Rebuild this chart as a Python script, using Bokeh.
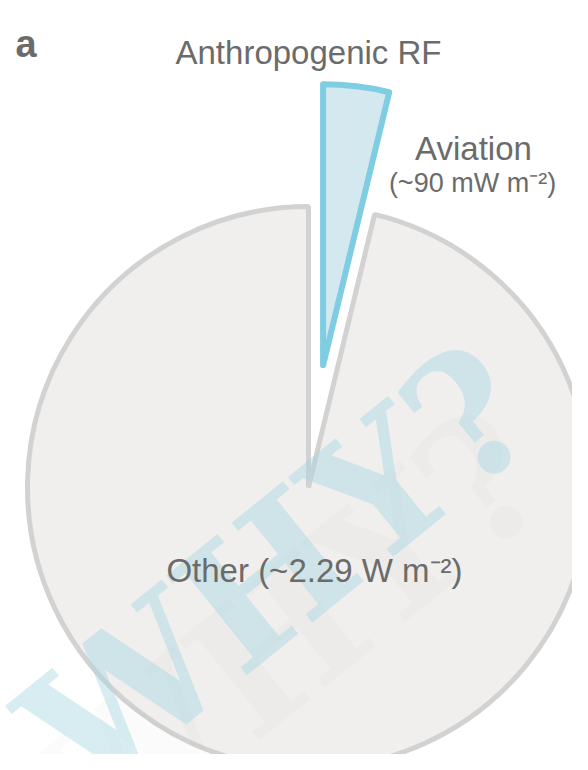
import math
from bokeh.plotting import figure
from bokeh.models import Range1d
from bokeh.core.properties import value
from bokeh.embed import file_html
from bokeh.resources import INLINE

# ---- data ----
slice_names = ["Aviation", "Other"]
slice_values_mw = [90, 2290]          # mW m^-2
slice_labels = ["Aviation", "Other (~2.29 W m\u207b\u00b2)"]
aviation_sub = "(~90 mW m\u207b\u00b2)"
title_text = "Anthropogenic RF"
panel_letter = "a"

# ---- layout ----
W, H = 572, 754
def Y(py):
    return 770 - py

cx, cy = 308, Y(487)
R = 281
explode = 123

p = figure(width=W, height=H, x_range=Range1d(0, W), y_range=Range1d(770 - H, 770),
           output_backend="svg", toolbar_location=None, min_border=0)
p.axis.visible = False
p.grid.visible = False
p.outline_line_color = None
p.background_fill_color = "white"
p.border_fill_color = "white"

total = sum(slice_values_mw)
frac_av = slice_values_mw[0] / total
ang_av = frac_av * 2 * math.pi
top = math.pi / 2

# Other slice
p.wedge(x=[cx], y=[cy], radius=R, start_angle=top, end_angle=top - ang_av + 2 * math.pi,
        direction="anticlock", fill_color="#f0efee", line_color="#d2d2d2", line_width=5)

# Aviation slice (exploded)
bis = top - ang_av / 2
ax, ay = cx + explode * math.cos(bis), cy + explode * math.sin(bis)
p.wedge(x=[ax], y=[ay], radius=R, start_angle=top - ang_av, end_angle=top,
        direction="anticlock", fill_color="#d4e8ef", line_color="#7ecde3", line_width=6,
        line_join="round")

# watermark
wm_font = value("DejaVu Serif")
wm_angle = math.radians(39)
p.text(x=[290], y=[Y(635)], text=["WHY?"], angle=wm_angle, text_font=wm_font,
       text_font_style="bold", text_font_size="176px", text_align="center",
       text_baseline="middle", text_color="#808080", text_alpha=0.03)
p.text(x=[278], y=[Y(570)], text=["WHY?"], angle=wm_angle, text_font=wm_font,
       text_font_style="bold", text_font_size="176px", text_align="center",
       text_baseline="middle", text_color="#a6d7e2", text_alpha=0.45)

f = value("Liberation Sans")
tc = "#6b6b6b"
p.text(x=[15], y=[Y(43)], text=[panel_letter], text_font=f, text_font_style="bold",
       text_font_size="38px", text_color=tc, text_align="left", text_baseline="alphabetic")
p.text(x=[308], y=[Y(52)], text=[title_text], text_font=f, text_font_size="33px",
       text_color=tc, text_align="center", text_baseline="alphabetic")
p.text(x=[473], y=[Y(148)], text=[slice_labels[0]], text_font=f, text_font_size="33px",
       text_color=tc, text_align="center", text_baseline="alphabetic")
p.text(x=[472], y=[Y(182)], text=[aviation_sub], text_font=f, text_font_size="27px",
       text_color=tc, text_align="center", text_baseline="alphabetic")
p.text(x=[314], y=[Y(570)], text=[slice_labels[1]], text_font=f, text_font_size="33px",
       text_color=tc, text_align="center", text_baseline="alphabetic")

open("out.html", "w").write(file_html(p, INLINE))
